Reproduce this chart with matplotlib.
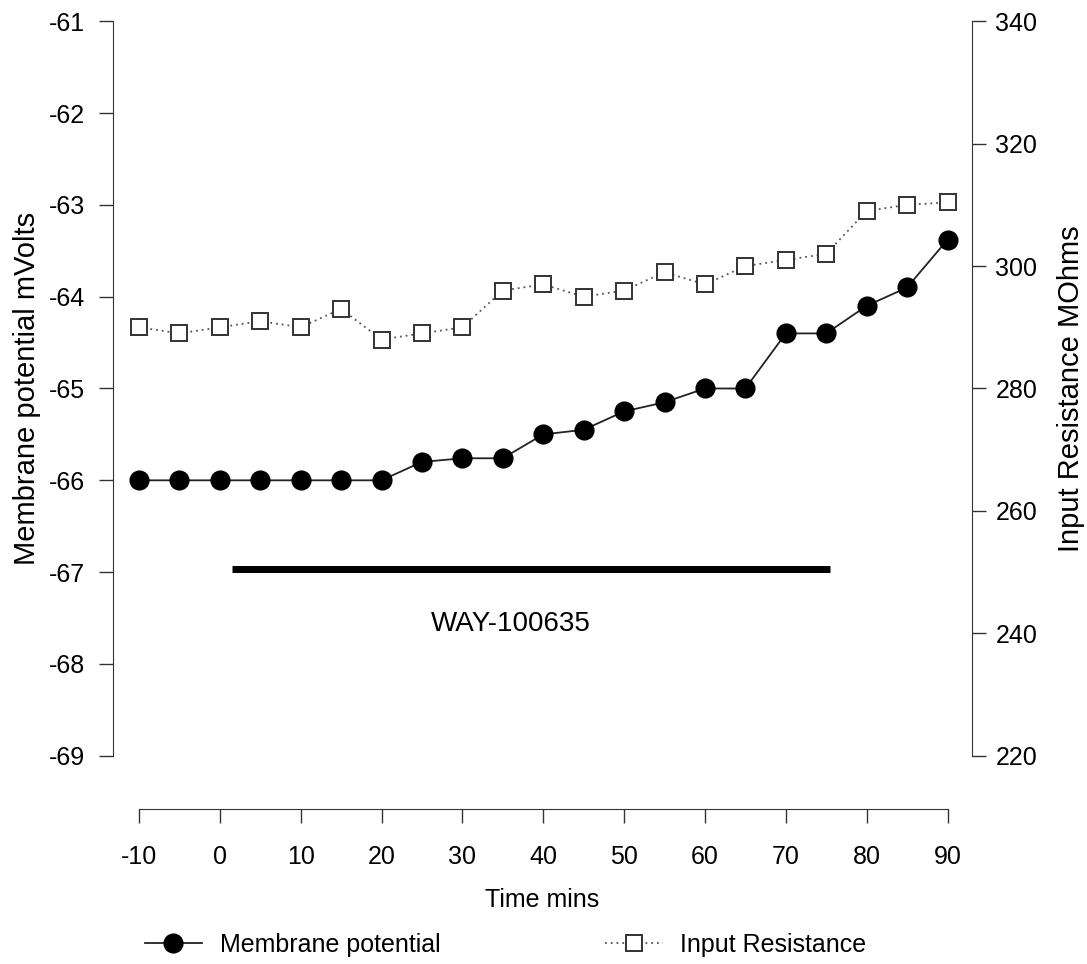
import numpy as np
import matplotlib.pyplot as plt
from matplotlib.lines import Line2D

plt.rcParams['font.family'] = ['Liberation Sans', 'DejaVu Sans']
plt.rcParams['axes.unicode_minus'] = False

# data
time_min = [-10, -5, 0, 5, 10, 15, 20, 25, 30, 35, 40, 45, 50, 55, 60, 65, 70, 75, 80, 85, 90]
membrane_mv = [-66.0, -66.0, -66.0, -66.0, -66.0, -66.0, -66.0, -65.8, -65.76, -65.76, -65.5,
               -65.45, -65.25, -65.15, -65.0, -65.0, -64.4, -64.4, -64.1, -63.9, -63.38]
resistance_mohm = [290, 289, 290, 291, 290, 293, 288, 289, 290, 296, 297,
                   295, 296, 299, 297, 300, 301, 302, 309, 310, 310.4]
drug_start, drug_end, drug_level = 1.5, 75.5, -66.97
drug_name = "WAY-100635"

fig = plt.figure(figsize=(10.87, 9.64), dpi=100)
ax = fig.add_axes([0.104, 0.216, 0.790, 0.762])
ax2 = ax.twinx()

ax.plot(time_min, membrane_mv, color='#222222', lw=1.3, marker='o', ms=13.5,
        mfc='black', mec='black', zorder=3)
ax2.plot(time_min, resistance_mohm, color='#555555', lw=1.3, ls=(0, (1, 2.2)),
         marker='s', ms=12, mfc='white', mec='#333333', mew=1.4, zorder=3)

# drug application bar
ax.plot([drug_start, drug_end], [drug_level, drug_level], color='black', lw=5,
        solid_capstyle='butt')
ax.text(36.0, -67.56, drug_name, ha='center', va='center', fontsize=20)

ax.set_xlim(-13.2, 93.0)
ax.set_ylim(-69, -61)
ax2.set_ylim(220, 340)
ax.set_xticks(np.arange(-10, 91, 10))
ax.set_yticks(np.arange(-69, -60, 1))
ax2.set_yticks(np.arange(220, 341, 20))

for a in (ax, ax2):
    a.spines['top'].set_visible(False)
    a.spines['bottom'].set_visible(False)
ax.spines['right'].set_visible(False)
ax2.spines['left'].set_visible(False)
ax.spines['bottom'].set_visible(True)
ax.spines['bottom'].set_position(('outward', 38))
ax.spines['bottom'].set_bounds(-10, 90)
for s in ('left', 'bottom'):
    ax.spines[s].set_color('#333333')
ax2.spines['right'].set_color('#333333')

ax.tick_params(axis='x', direction='out', length=10, width=1, color='#333333',
               labelsize=18, pad=16)
ax.tick_params(axis='y', direction='out', length=10, width=1, color='#333333',
               labelsize=18, pad=10)
ax2.tick_params(axis='y', direction='out', length=10, width=1, color='#333333',
                labelsize=18, pad=7)

ax.set_ylabel("Membrane potential mVolts", fontsize=21, labelpad=6)
ax2.set_ylabel("Input Resistance MOhms", fontsize=21, labelpad=14, rotation=90)
ax.set_xlabel("Time mins", fontsize=18, labelpad=14)

handles = [
    Line2D([], [], color='#222222', lw=1.3, marker='o', ms=13.5, mfc='black', mec='black'),
    Line2D([], [], color='#555555', lw=1.3, ls=(0, (1, 2.2)), marker='s', ms=12,
           mfc='white', mec='#333333', mew=1.4),
]
fig.legend(handles, ["Membrane potential", "Input Resistance"], loc='center',
           bbox_to_anchor=(0.465, 0.02), ncol=2, frameon=False, fontsize=18,
           columnspacing=6.6, handlelength=2.3, handletextpad=0.7)

fig.savefig("out.png", dpi=100)
